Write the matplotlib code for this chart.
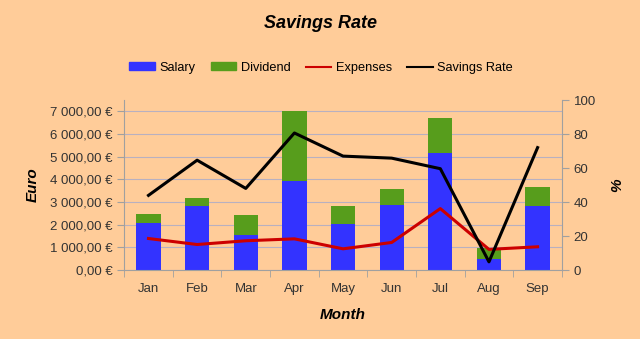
import matplotlib
matplotlib.use("Agg")
import matplotlib.pyplot as plt
from matplotlib.ticker import FuncFormatter
from matplotlib.patches import Patch
from matplotlib.lines import Line2D

plt.rcParams['font.family'] = ['Liberation Sans', 'DejaVu Sans']

months = ["Jan", "Feb", "Mar", "Apr", "May", "Jun", "Jul", "Aug", "Sep"]
salary = [2095, 2840, 1550, 3940, 2020, 2885, 5170, 485, 2810]
dividend = [380, 320, 895, 3075, 805, 675, 1550, 465, 835]
expenses = [1390, 1125, 1290, 1375, 935, 1215, 2710, 910, 1025]
savings_rate = [43.9, 64.6, 48.0, 80.6, 67.0, 65.8, 59.6, 4.8, 72.0]

BG = "#FFCC99"
BLUE = "#3333FF"
GREEN = "#579D1C"
RED = "#CC0000"
GRID = "#B8B0C0"
AXIS = "#A0A0A0"
TXT = "#333333"

fig = plt.figure(figsize=(6.4, 3.39), dpi=100, facecolor=BG)
ax = fig.add_axes([0.194, 0.2035, 0.684, 0.5015], facecolor=BG)

x = list(range(len(months)))
ax.bar(x, salary, width=0.5, color=BLUE, zorder=2)
ax.bar(x, dividend, width=0.5, bottom=salary, color=GREEN, zorder=2)
ax.plot(x, expenses, color=RED, lw=2.2, zorder=3)

ax.set_xlim(-0.5, len(months) - 0.5)
ax.set_ylim(0, 7500)
ax.set_yticks(range(0, 7001, 1000))
ax.yaxis.set_major_formatter(FuncFormatter(
    lambda v, p: f"{v:,.2f}".replace(",", " ").replace(".", ",") + " €"))
ax.grid(axis='y', color=GRID, lw=0.8, zorder=0)
ax.set_axisbelow(True)

ax.set_xticks(x)
ax.set_xticklabels(months)
ax.set_xticks([i - 0.5 for i in range(len(months) + 1)], minor=True)
ax.tick_params(axis='x', which='major', length=0, pad=9, labelsize=9.5, colors=TXT)
ax.tick_params(axis='x', which='minor', length=5, color=AXIS)
ax.tick_params(axis='y', length=5, color=AXIS, labelsize=9.5, labelcolor=TXT)

for s in ['top', 'right']:
    ax.spines[s].set_visible(False)
for s in ['left', 'bottom']:
    ax.spines[s].set_color(AXIS)

ax2 = ax.twinx()
ax2.plot(x, savings_rate, color='black', lw=2.2, zorder=4)
ax2.set_ylim(0, 100)
ax2.set_yticks(range(0, 101, 20))
ax2.tick_params(axis='y', length=5, color=AXIS, labelsize=9.5, labelcolor=TXT)
for s in ['top', 'left', 'bottom']:
    ax2.spines[s].set_visible(False)
ax2.spines['right'].set_color(AXIS)

ax.set_ylabel("Euro", fontsize=11, fontweight='bold', style='italic', labelpad=7)
ax.set_xlabel("Month", fontsize=11, fontweight='bold', style='italic', labelpad=10)
ax2.set_ylabel("%", fontsize=11, fontweight='bold', style='italic', labelpad=10)

fig.text(0.5, 0.932, "Savings Rate", ha='center', va='center',
         fontsize=13, fontweight='bold', style='italic')

handles = [Patch(color=BLUE, label="Salary"),
           Patch(color=GREEN, label="Dividend"),
           Line2D([], [], color=RED, lw=1.5, label="Expenses"),
           Line2D([], [], color='black', lw=1.5, label="Savings Rate")]
fig.legend(handles=handles, loc='center', bbox_to_anchor=(0.502, 0.8),
           ncol=4, frameon=False, fontsize=9.2, handlelength=2.0,
           handleheight=0.6, handletextpad=0.35, columnspacing=1.2)

fig.savefig("out.png", dpi=100, facecolor=BG)
